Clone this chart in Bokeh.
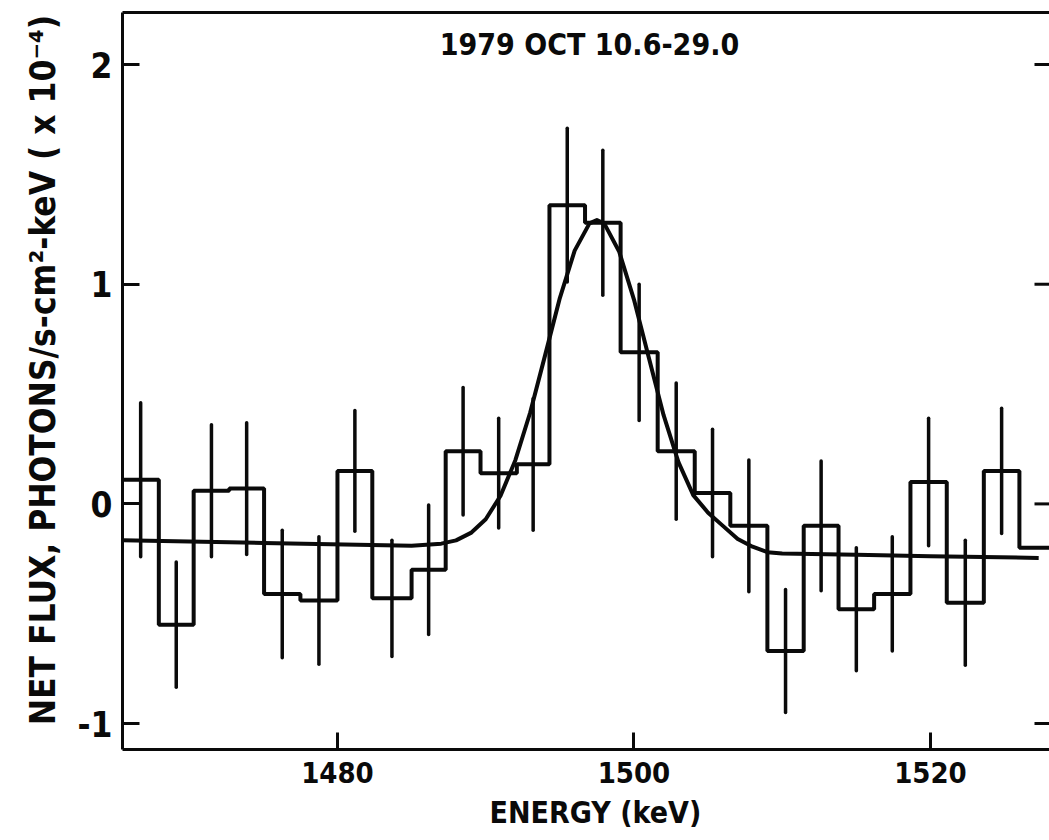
from bokeh.plotting import figure
from bokeh.models import Range1d, FixedTicker, Label, LinearAxis
from bokeh.embed import file_html
from bokeh.resources import INLINE

# ---- data ----
bin_edges = [1465.5, 1467.95, 1470.3, 1472.7, 1475.05, 1477.5, 1480.0, 1482.35,
             1485.0, 1487.3, 1489.65, 1492.1, 1494.3, 1496.7, 1499.1, 1501.6,
             1504.1, 1506.5, 1509.0, 1511.45, 1513.8, 1516.2, 1518.65, 1521.1,
             1523.6, 1526.0, 1528.4]
net_flux = [0.11, -0.55, 0.06, 0.07, -0.41, -0.44, 0.15, -0.43, -0.30, 0.24,
            0.14, 0.18, 1.36, 1.28, 0.69, 0.24, 0.05, -0.10, -0.67, -0.10,
            -0.48, -0.41, 0.10, -0.45, 0.15, -0.20]
flux_err = [0.35, 0.285, 0.30, 0.30, 0.29, 0.29, 0.275, 0.265, 0.295, 0.29,
            0.25, 0.30, 0.35, 0.33, 0.31, 0.31, 0.29, 0.30, 0.28, 0.295,
            0.28, 0.26, 0.29, 0.285, 0.285]          # last bin has no bar

fit_energy = [1465.5, 1475, 1485, 1487, 1488, 1489, 1490, 1491, 1492, 1493,
              1494, 1495, 1496, 1497, 1497.5, 1498, 1499, 1500, 1501, 1502,
              1503, 1504, 1505, 1506, 1507, 1508, 1509, 1510, 1515, 1520, 1527.3]
fit_flux = [-0.165, -0.178, -0.19, -0.181, -0.166, -0.132, -0.07, 0.037, 0.199,
            0.416, 0.675, 0.937, 1.153, 1.277, 1.292, 1.276, 1.149, 0.930,
            0.666, 0.404, 0.19, 0.04, -0.04, -0.10, -0.16, -0.195, -0.22,
            -0.226, -0.232, -0.238, -0.246]

x_ticks = [1480, 1500, 1520]
y_ticks = [-1, 0, 1, 2]
y_tick_labels = {-1: "-1", 0: "0", 1: "1", 2: "2"}
title_text = "1979 OCT 10.6-29.0"
# leading no-break spaces nudge the centred axis labels, as placed in the reference
x_label = "\u00a0\u00a0ENERGY (keV)"
y_label = "\u00a0\u00a0NET FLUX, PHOTONS/s-cm²-keV ( x 10⁻⁴)"

FONT = "DejaVu Sans Condensed, Liberation Sans Narrow, DejaVu Sans"
INK = "#0a0a0a"

W, H = 1049, 840
LEFT, TOP, BOTTOM = 122, 12, 91
x0, x1 = 1465.5, 1528.03
y0, y1 = -1.118, 2.237

p = figure(width=W, height=H, output_backend="svg", toolbar_location=None,
           x_range=Range1d(x0, x1), y_range=Range1d(y0, y1),
           min_border_left=LEFT, min_border_right=0, min_border_top=TOP,
           min_border_bottom=BOTTOM)
p.outline_line_color = None
p.grid.visible = False
p.background_fill_color = "white"

for ax in (p.xaxis[0], p.yaxis[0]):
    ax.axis_line_width = 3
    ax.axis_line_color = INK
    ax.major_tick_in = 17
    ax.major_tick_out = 0
    ax.major_tick_line_width = 3
    ax.major_tick_line_color = INK
    ax.minor_tick_line_color = None
    ax.major_label_text_font = FONT
    ax.major_label_text_font_style = "bold"
    ax.major_label_text_color = INK
    ax.axis_label_text_font = FONT
    ax.axis_label_text_font_style = "bold"
    ax.axis_label_text_color = INK

p.xaxis.ticker = FixedTicker(ticks=x_ticks)
p.xaxis.major_label_text_font_size = "29px"
p.xaxis.major_label_standoff = 12
p.xaxis.axis_label = x_label
p.xaxis.axis_label_text_font_size = "30px"
p.xaxis.axis_label_standoff = 9

p.yaxis.ticker = FixedTicker(ticks=y_ticks)
p.yaxis.major_label_overrides = y_tick_labels
p.yaxis.major_label_text_font_size = "35px"
p.yaxis.major_label_standoff = 10
p.yaxis.axis_label = y_label
p.yaxis.axis_label_text_font_size = "35px"
p.yaxis.axis_label_standoff = 12

# top border of the frame
top_axis = LinearAxis(ticker=FixedTicker(ticks=[]), axis_line_width=3,
                      axis_line_color=INK, major_tick_line_color=None,
                      minor_tick_line_color=None)
p.add_layout(top_axis, "above")

# inward ticks on the right-hand side (axis line itself is cut off)
frame_w = W - LEFT
tick_len = 15 * (x1 - x0) / frame_w
p.segment(x0=[x1 - tick_len] * len(y_ticks), y0=y_ticks,
          x1=[x1] * len(y_ticks), y1=y_ticks, line_width=3, line_color=INK)

# histogram (step outline)
step_x = bin_edges[:len(net_flux)] + [bin_edges[len(net_flux)]]
step_y = net_flux + [net_flux[-1]]
p.step(step_x, step_y, mode="after", line_width=4, line_color=INK)

# error bars at bin centres
centers = [(bin_edges[i] + bin_edges[i + 1]) / 2 for i in range(len(flux_err))]
lo = [net_flux[i] - flux_err[i] for i in range(len(flux_err))]
hi = [net_flux[i] + flux_err[i] for i in range(len(flux_err))]
p.segment(x0=centers, y0=lo, x1=centers, y1=hi, line_width=3.5,
          line_color=INK, line_cap="round")

# fitted line profile
p.line(fit_energy, fit_flux, line_width=4, line_color=INK, line_join="round")

p.add_layout(Label(x=1497.0, y=2.09, text=title_text, text_font=FONT,
                   text_font_style="bold", text_font_size="30px",
                   text_color=INK, text_align="center", text_baseline="middle"))

open("out.html", "w").write(file_html(p, INLINE))
